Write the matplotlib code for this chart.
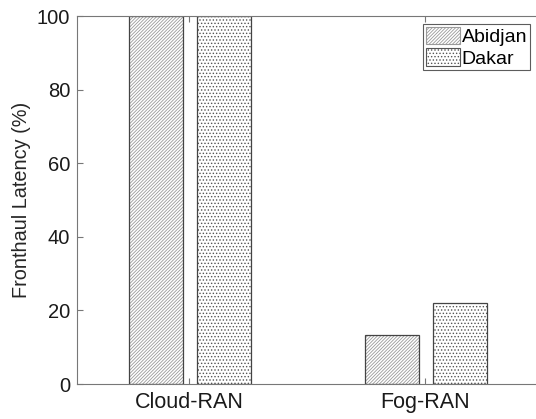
import matplotlib.pyplot as plt
import numpy as np

plt.rcParams['font.family'] = ['Liberation Sans', 'DejaVu Sans']
plt.rcParams['hatch.linewidth'] = 0.6

groups = ["Cloud-RAN", "Fog-RAN"]
abidjan = [100, 13.3]
dakar = [100, 22.0]


def draw():
    fig = plt.figure(figsize=(5.36, 4.19), dpi=100)
    ax = fig.add_axes([77/536, 35/419, 459/536, 368/419])

    x = np.arange(1, len(groups) + 1)
    w = 0.23
    # hatched fill in grey, then dark outline on top
    ax.bar(x - 0.143, abidjan, w, color="white", edgecolor="#9a9a9a",
           linewidth=0, hatch="/" * 10, label="Abidjan")
    ax.bar(x + 0.145, dakar, w, color="white", edgecolor="#555555",
           linewidth=0, hatch="." * 5, label="Dakar")
    ax.bar(x - 0.143, abidjan, w, fill=False, edgecolor="#444444", linewidth=0.9)
    ax.bar(x + 0.145, dakar, w, fill=False, edgecolor="#444444", linewidth=0.9)

    ax.set_xlim(1 - 112.5/236, 1 + 346.5/236)
    ax.set_ylim(0, 100)
    ax.set_xticks(x)
    ax.set_xticklabels(groups)
    ax.set_yticks(np.arange(0, 101, 20))

    for s in ["left", "bottom", "top"]:
        ax.spines[s].set_color("#777777")
        ax.spines[s].set_linewidth(0.8)
    ax.spines["right"].set_visible(False)
    ax.tick_params(direction="in", length=4, color="#777777", labelsize=14.5,
                   labelcolor="#1a1a1a", top=True, pad=5)
    ax.tick_params(axis="x", labelsize=15.5, pad=6)
    ax.set_ylabel("Fronthaul Latency (%)", fontsize=14.3, color="#262626")

    leg = ax.legend(loc="upper right", fontsize=14, fancybox=False,
                    edgecolor="#333333", handlelength=1.75, handleheight=1.0,
                    handletextpad=0.1, borderpad=0.15, labelspacing=0.1,
                    borderaxespad=0, bbox_to_anchor=(530/536, 1 - 24/419),
                    bbox_transform=fig.transFigure)
    leg.get_frame().set_linewidth(0.8)
    for h in leg.legend_handles:
        h.set_linewidth(0.8)

    fig.savefig("out.png", dpi=100)


if __name__ == "__main__":
    draw()
